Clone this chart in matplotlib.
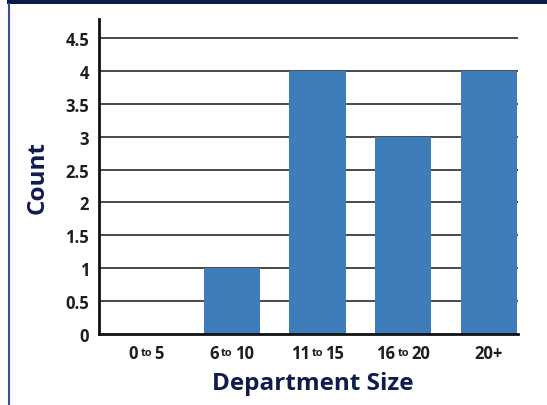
import matplotlib
matplotlib.use("Agg")
import matplotlib.pyplot as plt
from matplotlib.offsetbox import TextArea, HPacker, AnnotationBbox
from matplotlib.lines import Line2D
from matplotlib.patches import Rectangle

# Department size groups and how many departments fall in each
size_from = ["0", "6", "11", "16", "20+"]
size_to = ["5", "10", "15", "20", ""]
counts = [0, 1, 4, 3, 4]
y_ticks = [0, 0.5, 1, 1.5, 2, 2.5, 3, 3.5, 4, 4.5]
y_tick_labels = ["0", "0.5", "1", "1.5", "2", "2.5", "3", "3.5", "4", "4.5"]

plt.rcParams["font.family"] = ["Open Sans", "DejaVu Sans"]

NAVY = "#111c4e"
BAR = "#3d7db9"
TEXT = "#1e1e1e"

fig = plt.figure(figsize=(5.47, 4.06), dpi=100)
ax = fig.add_axes([99 / 547, 1 - 335 / 406, (518 - 99) / 547, (335 - 20) / 406])

x = list(range(len(counts)))
ax.bar(x, counts, width=0.66, color=BAR, zorder=3)

ax.set_xlim(-0.55, 4.34)
ax.set_ylim(0, 4.5 + 19 / 65.8)
ax.set_yticks(y_ticks)
ax.set_yticklabels(y_tick_labels, fontsize=12, fontweight="bold", color=TEXT)
ax.tick_params(axis="y", length=0, pad=7)
ax.set_xticks(x)
ax.set_xticklabels([""] * len(x))
ax.tick_params(axis="x", length=0)

for v in y_ticks[1:]:
    ax.axhline(v, color="#3c3c3c", lw=1.3, zorder=1)

for s in ["top", "right"]:
    ax.spines[s].set_visible(False)
for s in ["left", "bottom"]:
    ax.spines[s].set_linewidth(2)
    ax.spines[s].set_color("#111111")
    ax.spines[s].set_zorder(4)

# Category labels with a small "to" between the bounds
for i, (a, b) in enumerate(zip(size_from, size_to)):
    big = dict(fontsize=12, fontweight="bold", color=TEXT)
    parts = [TextArea(a, textprops=big)]
    if b:
        parts.append(TextArea("to", textprops=dict(fontsize=8, fontweight="bold", color=TEXT)))
        parts.append(TextArea(b, textprops=big))
    box = HPacker(children=parts, align="center", pad=0, sep=1.5)
    ab = AnnotationBbox(box, (i, 0), xycoords=("data", "axes fraction"),
                        xybox=(0, -13.5), boxcoords="offset points",
                        frameon=False, box_alignment=(0.5, 0.5))
    ax.add_artist(ab)

fig.text(313 / 547, 1 - 384 / 406, "Department Size", ha="center", va="center",
         fontsize=17.5, fontweight="bold", color=NAVY)
fig.text(38 / 547, 1 - 178 / 406, "Count", ha="center", va="center", rotation=90,
         fontsize=17.5, fontweight="bold", color=NAVY)

# Page frame: dark band on top and a thin rule on the left
fig.add_artist(Rectangle((7 / 547, 1 - 5 / 406), 1, 5 / 406, transform=fig.transFigure,
                         color="#0c1a4a", lw=0))
fig.add_artist(Line2D([8.5 / 547, 8.5 / 547], [0, 1 - 5 / 406], transform=fig.transFigure,
                      color="#3a4d9a", lw=1.5))

fig.savefig("out.png", dpi=100)
